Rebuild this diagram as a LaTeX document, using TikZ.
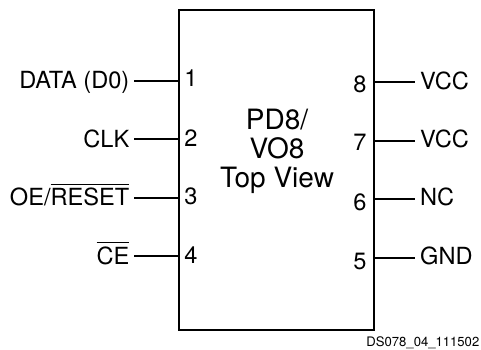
\documentclass[tikz,border=0pt]{standalone}
\usepackage{fontspec}
\setmainfont{TeX Gyre Heros}
\newcommand{\ovl}[1]{\setbox0=\hbox{#1}\rlap{\rule[20.6pt]{\wd0}{1pt}}\box0}
\tikzset{x=1pt,y=-1pt,
  pinline/.style={line width=2pt},
  sig/.style={font=\fontsize{23.6}{23.6}\selectfont,inner sep=0pt,text height=16pt,text depth=0pt},
  pinnum/.style={font=\fontsize{23.6}{23.6}\selectfont,inner sep=0pt,text height=16pt,text depth=0pt,anchor=center},
  title/.style={font=\fontsize{28}{29}\selectfont,align=center,inner sep=0pt},
  box/.style={line width=2.2pt,draw,inner sep=0pt}}
\begin{document}
\begin{tikzpicture}
\useasboundingbox (0,0) rectangle (481,350);
\node[box,minimum width=195pt,minimum height=320pt] (chip) at (276.5,170) {};
\node[title] (name) at (277,151) {PD8/\\VO8\\Top View};
% left
\node[sig,anchor=east] (l1) at (129.5,80.5) {DATA (D0)};
\node[sig,anchor=east] (l2) at (129.5,139) {CLK};
\node[sig,anchor=east] (l3) at (129.5,197.5) {OE/\ovl{RESET}};
\node[sig,anchor=east] (l4) at (129.5,256) {\ovl{CE}};
\foreach \n/\y in {1/80.7,2/139,3/197.5,4/256}{
  \coordinate (a\n) at (chip.west |- 0,\y);
  \draw[pinline] (l\n.east |- a\n) ++(4.5,0) -- (a\n);
}
\node[pinnum] (n1) at (191,78.7) {1};
\node[pinnum] (n2) at (191,138.5) {2};
\node[pinnum] (n3) at (191,196.5) {3};
\node[pinnum] (n4) at (191,255) {4};
% right
\node[sig,anchor=west] (r8) at (420,81) {VCC};
\node[sig,anchor=west] (r7) at (420,139.3) {VCC};
\node[sig,anchor=west] (r6) at (420,197.7) {NC};
\node[sig,anchor=west] (r5) at (420,256.5) {GND};
\foreach \n/\y in {8/82.5,7/141,6/199,5/257.5}{
  \coordinate (b\n) at (chip.east |- 0,\y);
  \draw[pinline] (b\n) -- ([xshift=-5pt]r\n.west |- b\n);
}
\node[pinnum] (n8) at (360,84.3) {8};
\node[pinnum] (n7) at (360,142.6) {7};
\node[pinnum] (n6) at (360,202) {6};
\node[pinnum] (n5) at (360,261) {5};
\node[font=\fontsize{13.1}{13.1}\selectfont,anchor=east,inner sep=0pt] (ds) at (479.5,342.5) {DS078\_04\_111502};
\end{tikzpicture}
\end{document}
